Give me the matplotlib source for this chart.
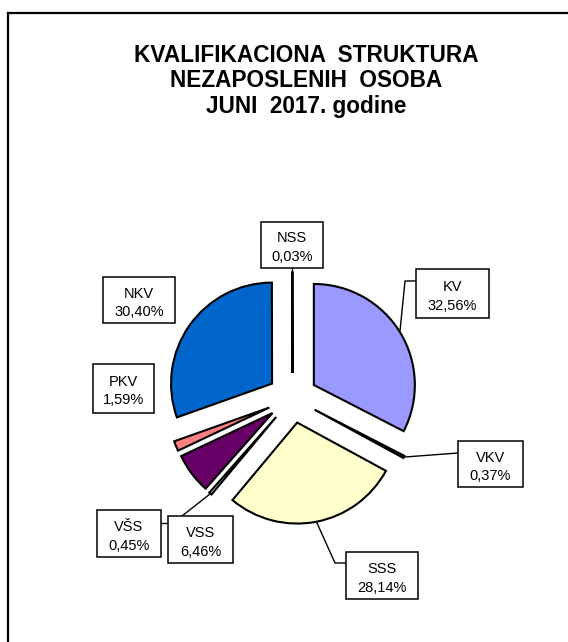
import matplotlib
matplotlib.use('Agg')
import matplotlib.pyplot as plt
from matplotlib.patches import Rectangle
from matplotlib.lines import Line2D

# ---- data ----
categories = ['KV', 'VKV', 'SSS', 'VŠS', 'VSS', 'PKV', 'NKV', 'NSS']
shares = [32.56, 0.37, 28.14, 0.45, 6.46, 1.59, 30.40, 0.03]
title_lines = ['KVALIFIKACIONA  STRUKTURA', 'NEZAPOSLENIH  OSOBA', 'JUNI  2017. godine']

# ---- style ----
colors = ['#9999FF', '#993366', '#FFFFCC', '#CCFFFF', '#660066', '#FF8080', '#0066CC', '#CCCCFF']

# label boxes (pixel coords: left, top, right, bottom)
boxes = {
    'NSS': (261, 222, 323, 268),
    'KV': (416, 269, 489, 318),
    'VKV': (458, 441, 523, 487),
    'SSS': (346, 552, 418, 599),
    'VSS': (168, 516, 233, 563),
    'VŠS': (97, 510, 161, 557),
    'NKV': (103, 277, 175, 323),
    'PKV': (93, 364, 154, 413),
}
leaders = [
    [(292, 268), (292, 274)],
    [(416, 281), (405, 281), (400, 331)],
    [(458, 453), (405, 457)],
    [(346, 563), (335, 563), (317, 523)],
    [(182, 516), (210, 494)],
    [(161, 523), (168, 523)],
]

W, H = 568, 642
fig = plt.figure(figsize=(W / 100, H / 100), dpi=100)
ax = fig.add_axes([0, 0, 1, 1])


def Y(py):
    return H - py


cx, cy, R, EXP = 292.5, 398, 101, 25
ax.pie(shares, colors=colors, startangle=90, counterclock=False, radius=R,
       center=(cx, Y(cy)), explode=[EXP] * len(shares),
       wedgeprops=dict(edgecolor='black', linewidth=1.5))
ax.set_xlim(0, W)
ax.set_ylim(0, H)
ax.set_aspect('equal')
ax.axis('off')

# leader lines
for pts in leaders:
    ax.plot([p[0] for p in pts], [Y(p[1]) for p in pts], color='black', lw=1.0, zorder=3)

# label boxes
for name, val in zip(categories, shares):
    l, t, r, b = boxes[name]
    ax.add_patch(Rectangle((l, Y(b)), r - l, b - t, facecolor='white', edgecolor='black',
                           lw=1.1, zorder=4))
    xc = (l + r) / 2
    yc = (t + b) / 2
    ax.text(xc, Y(yc - 2.5), name, ha='center', va='baseline', fontsize=10.5,
            family='Liberation Sans', zorder=5)
    ax.text(xc, Y(yc + 16), f"{val:.2f}".replace('.', ',') + '%', ha='center', va='baseline',
            fontsize=10.5, family='Liberation Sans', zorder=5)

# title
for line, base in zip(title_lines, [62, 87, 113]):
    ax.text(306, Y(base), line, ha='center', va='baseline', fontsize=16.3, weight='bold',
            family='Liberation Sans', zorder=5)

# frame (top and left edges visible)
ax.add_line(Line2D([8, W], [Y(13), Y(13)], color='black', lw=1.6))
ax.add_line(Line2D([8, 8], [Y(13), 0], color='black', lw=1.6))

fig.savefig('out.png', dpi=100)
